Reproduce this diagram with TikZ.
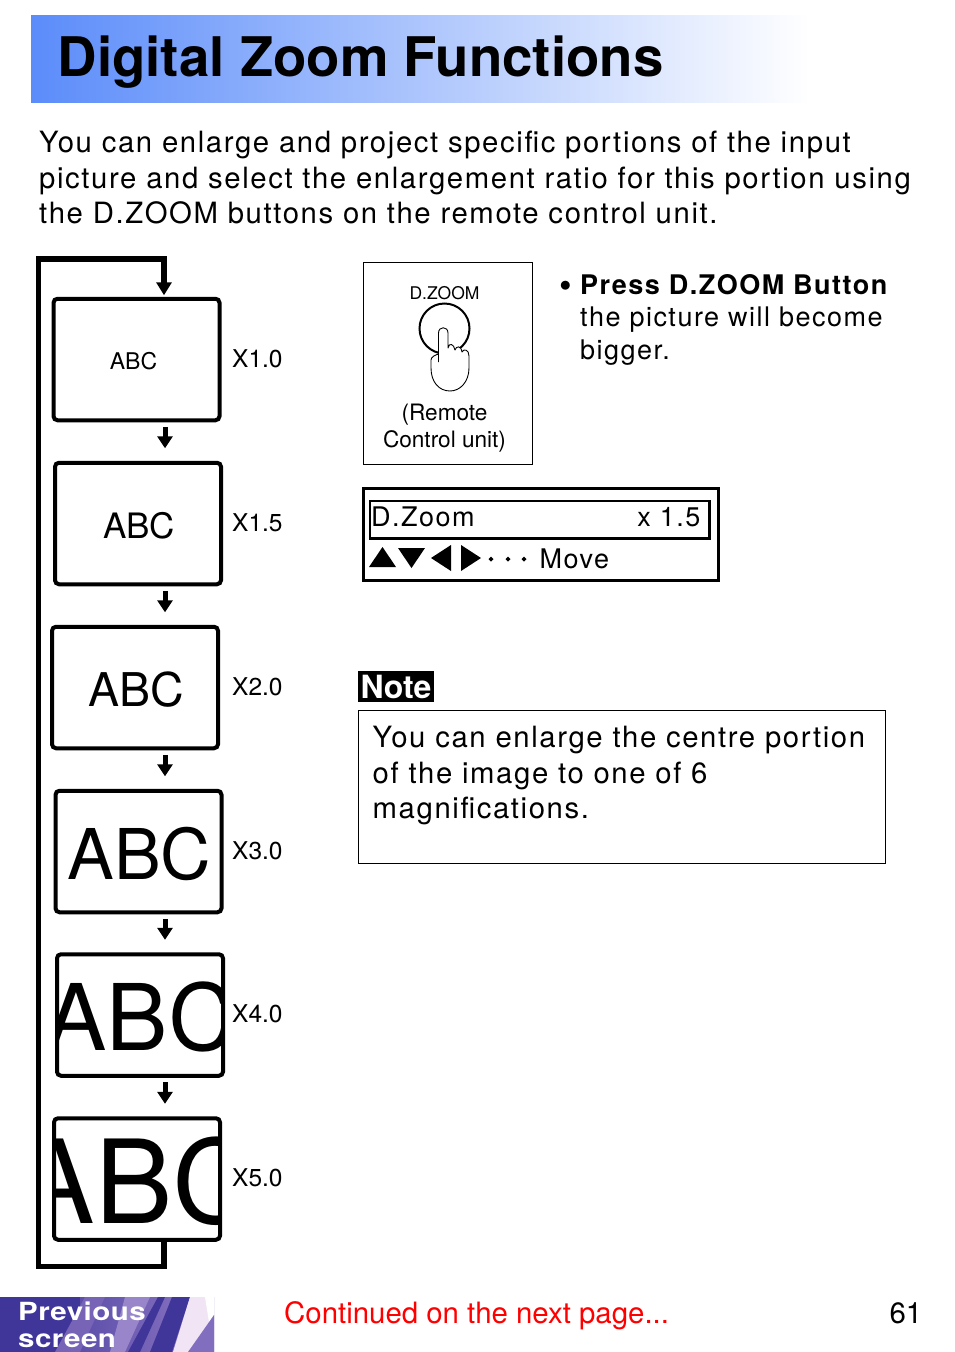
\documentclass[tikz,border=0pt]{standalone}
\usepackage{fontspec}
\setmainfont{TeX Gyre Heros}
\newfontfamily\spaced[LetterSpace=5.5]{TeX Gyre Heros}
\newfontfamily\wideface[FakeStretch=1.18,LetterSpace=2]{TeX Gyre Heros}
\usepackage{tikz}
\usetikzlibrary{arrows.meta}
\usetikzlibrary{calc}
\definecolor{mybar}{HTML}{5B8CFA}
\definecolor{mybtn}{HTML}{40369A}
\definecolor{mystreak}{HTML}{8E78C4}
\definecolor{mypale}{HTML}{F1E4F4}

\begin{document}
\begin{tikzpicture}[x=1pt,y=-1pt,
  framebox/.style={rounded corners=4pt,draw,line width=4pt,minimum width=166pt,minimum height=121.5pt,inner sep=0pt},
  flow/.style={line width=5pt,-{Triangle[width=15pt,length=12pt]}},
  loopline/.style={line width=5.5pt,miter limit=10},
  zoomlabel/.style={font=\fontsize{24.5}{24.5}\selectfont,anchor=west,inner sep=0pt},
  thinbox/.style={draw,line width=1pt,anchor=north west,inner sep=0pt},
  bodytext/.style={anchor=north west,inner sep=0pt,align=left,font=\spaced\fontsize{29.3}{35.5}\selectfont}]
\useasboundingbox (0,0) rectangle (954,1352);

\node[inner sep=0pt,anchor=north west,minimum width=779pt,minimum height=87.5pt,left color=mybar,right color=white] (bar) at (31,15) {};
\node[anchor=base west,inner sep=0pt,font=\bfseries\fontsize{54.6}{54.6}\selectfont] (title) at (57.5,76) {Digital Zoom Functions};
\node[bodytext] (intro) at (39,131) {You can enlarge and project specific portions of the input\\
picture and select the enlargement ratio for this portion using\\
the D.ZOOM buttons on the remote control unit.};

% zoom steps
\foreach \x/\y/\s/\d/\lab [count=\c] in {136.5/359.5/23/-3/1.0,138/523.5/35/1/1.5,135/687.5/46.5/1/2.0,138.5/851.5/70/1/3.0,140/1015/92/0/4.0,137/1179/116/0/5.0}{
  \node[framebox,path picture={\node[inner sep=0pt,font=\fontsize{\s}{\s}\selectfont] (abc\c) at ([xshift=\d pt,yshift=-2pt]path picture bounding box.center) {ABC};}] (box\c) at (\x,\y) {};
  \node[zoomlabel] (lab\c) at (232,\y-1) {X\lab};
}
\coordinate (tip) at (165,0);
\foreach \a/\b in {1/2,2/3,3/4,4/5,5/6}{
  \draw[flow,shorten <=4.5pt,shorten >=12.5pt] (box\a.south -| tip) -- (box\b.north -| tip);
}
\coordinate (loopa) at (164,1266.5);
\coordinate (loopb) at (38.5,1266.5);
\coordinate (loopc) at (38.5,259);
\coordinate (loopd) at (164,259);
\draw[loopline,-{Triangle[width=15pt,length=13pt]},shorten >=1.5pt] (box6.south -| loopa) -- (loopa) -- (loopb) -- (loopc) -- (loopd) -- (box1.north -| loopd);

% remote control
\node[thinbox,minimum width=169pt,minimum height=202pt] (remote) at (363,262) {};
\node[inner sep=0pt,font=\fontsize{17.5}{17.5}\selectfont] (dzoom) at (444.5,293) {D.ZOOM};
\node[inner sep=0pt,align=center,font=\fontsize{22.6}{27}\selectfont] (unit) at (444.5,428) {(Remote\\Control unit)};
\draw[line width=2pt] (444.5,328.5) circle (25);
\draw[fill=white,line width=.9pt,line join=round] (438.5,354) -- (438.5,333) .. controls (438.5,326) and (448,326) .. (448,333)
  -- (448,348) .. controls (449,342) and (454,344) .. (455,350) .. controls (456,346) and (461,345) .. (462,352)
  .. controls (464,348) and (469,350) .. (469,356) -- (469,368) .. controls (469,382) and (460,391) .. (450,391)
  .. controls (439,391) and (431,382) .. (431,368) -- (431,360) .. controls (431,357) and (435,355) .. (438.5,354) -- (438.5,362);

% on screen display
\node[draw,line width=3pt,anchor=north west,inner sep=0pt,minimum width=355.5pt,minimum height=92.5pt] (osd) at (361.5,486.5) {};
\node[draw,line width=2.5pt,anchor=north west,inner sep=0pt,minimum width=339.5pt,minimum height=37.5pt] (osdbar) at (368.5,499.5) {};
\node[anchor=base west,inner sep=0pt,font=\spaced\fontsize{27}{27}\selectfont] (osdname) at (371,526.5) {D.Zoom};
\node[anchor=base east,inner sep=0pt,font=\spaced\fontsize{27}{27}\selectfont] (osdval) at (700.5,526.5) {x 1.5};
\fill (369,567) -- (382.5,547) -- (396,567) -- cycle;
\fill (398,548) -- (425,548) -- (411.5,568) -- cycle;
\fill (451,545) -- (451,571) -- (431,558) -- cycle;
\fill (461,545) -- (461,571) -- (481,558) -- cycle;
\foreach \x in {491,508,524}{
  \fill (\x,556.5) -- (\x+2.5,559) -- (\x,561.5) -- (\x-2.5,559) -- cycle;
}
\node[anchor=base west,inner sep=0pt,font=\spaced\fontsize{27}{27}\selectfont] (osdmove) at (539.5,568.5) {Move};

% press text
\node[anchor=base west,inner sep=0pt,font=\bfseries\fontsize{36}{36}\selectfont] (bullet) at (559,296) {•};
\node[anchor=north west,inner sep=0pt,align=left,font=\spaced\fontsize{27}{32.5}\selectfont] (press) at (580,274) {\textbf{Press D.ZOOM Button}\\the picture will become\\bigger.};

% note
\node[fill=black,anchor=north west,inner sep=0pt,minimum width=76pt,minimum height=31pt] (notebg) at (358,671) {};
\node[text=white,inner sep=0pt,font=\bfseries\fontsize{32}{32}\selectfont] (notelab) at (396,686.5) {Note};
\node[thinbox,minimum width=527pt,minimum height=153pt] (notebox) at (358,710) {};
\node[bodytext] (notetext) at (372.5,726) {You can enlarge the centre portion\\of the image to one of 6\\magnifications.};

% previous screen button
\begin{scope}
\clip (0,1297) rectangle (214,1352);
\shade[left color=mybtn,right color=mystreak] (0,1297) rectangle (214,1352);
\fill[mybtn] (0,1297) rectangle (80,1352);
\fill[mystreak!70!mybtn] (55,1352) -- (85,1297) -- (105,1297) -- (80,1352) -- cycle;
\fill[mystreak!90!white] (110,1352) -- (125,1297) -- (150,1297) -- (125,1352) -- cycle;
\fill[mybtn] (128,1352) -- (158,1297) -- (165,1297) -- (140,1352) -- cycle;
\fill[mybtn] (150,1352) -- (172,1297) -- (190,1297) -- (172,1352) -- cycle;
\fill[mypale] (190,1297) -- (214,1297) -- (214,1352) -- (173,1352) -- cycle;
\fill[white] (205,1297) -- (214,1297) -- (214,1315) -- (209,1322) -- cycle;
\fill[mystreak!85!mybtn] (188,1352) -- (214,1315) -- (214,1352) -- cycle;
\end{scope}
\node[anchor=base west,inner sep=0pt,text=white,font=\wideface\bfseries\fontsize{25}{25}\selectfont] (prev) at (18,1320) {Previous};
\node[anchor=base west,inner sep=0pt,text=white,font=\wideface\bfseries\fontsize{25}{25}\selectfont] (scr) at (18,1347) {screen};

\node[anchor=base west,inner sep=0pt,text=red,font=\fontsize{29.4}{29.4}\selectfont] (cont) at (284,1323) {Continued on the next page...};
\node[anchor=base east,inner sep=0pt,font=\fontsize{29.4}{29.4}\selectfont] (pageno) at (922.5,1323) {61};
\end{tikzpicture}
\end{document}
